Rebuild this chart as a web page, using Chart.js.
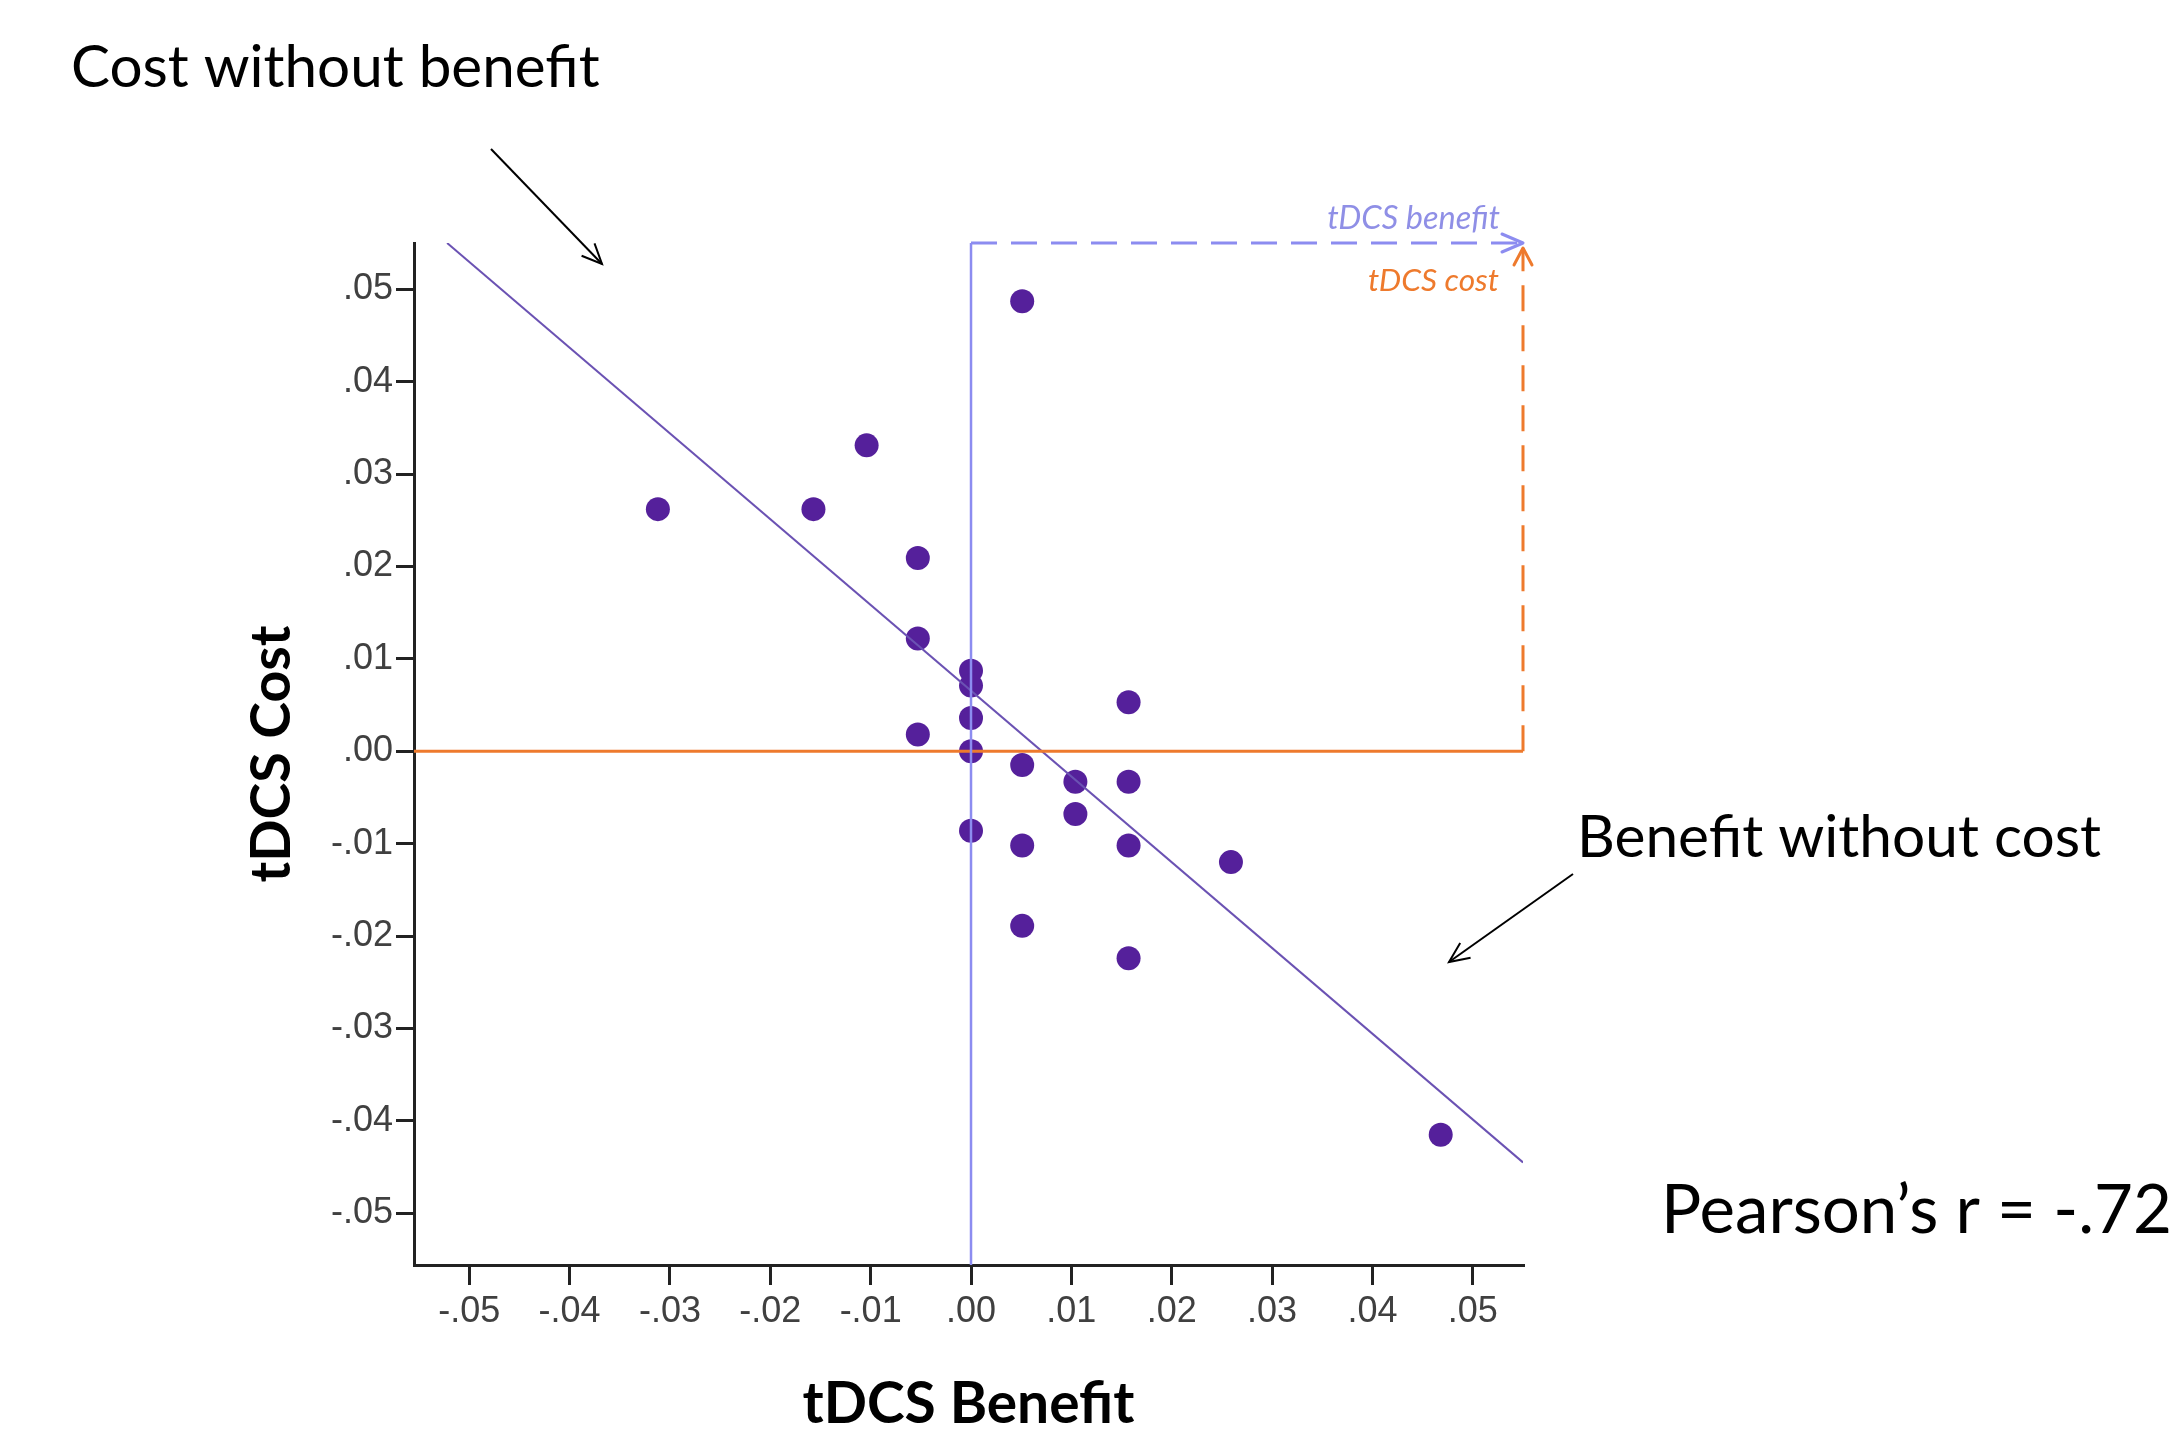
<!DOCTYPE html>
<html>
<head>
<meta charset="utf-8">
<script src="https://cdn.jsdelivr.net/npm/chart.js@4.4.1/dist/chart.umd.min.js"></script>
<style>
html,body{margin:0;padding:0;background:#ffffff;}
#wrap{position:relative;width:2179px;height:1439px;}
canvas{display:block;}
</style>
</head>
<body>
<div id="wrap"><canvas id="c" width="2179" height="1439"></canvas></div>
<script>
// ---------- DATA ----------
const benefitValues = [-0.0312, -0.0157, -0.0104, -0.0053, -0.0053, -0.0053, 0.0000, 0.0000, 0.0000, 0.0000, 0.0000, 0.0051, 0.0051, 0.0051, 0.0051, 0.0104, 0.0104, 0.0157, 0.0157, 0.0157, 0.0157, 0.0259, 0.0468];
const costValues    = [ 0.0262,  0.0262,  0.0331,  0.0209,  0.0122,  0.0018, 0.0087, 0.0071, 0.0036, 0.0000, -0.0086, 0.0487, -0.0015, -0.0102, -0.0189, -0.0033, -0.0068, 0.0053, -0.0033, -0.0102, -0.0224, -0.0120, -0.0415];
const fitLineBenefit = [-0.0522, 0.0550];
const fitLineCost    = [ 0.0550, -0.0445];
const xTickValues = [-0.05, -0.04, -0.03, -0.02, -0.01, 0, 0.01, 0.02, 0.03, 0.04, 0.05];
const xTickLabels = ['-.05', '-.04', '-.03', '-.02', '-.01', '.00', '.01', '.02', '.03', '.04', '.05'];
const yTickValues = [-0.05, -0.04, -0.03, -0.02, -0.01, 0, 0.01, 0.02, 0.03, 0.04, 0.05];
const yTickLabels = ['-.05', '-.04', '-.03', '-.02', '-.01', '.00', '.01', '.02', '.03', '.04', '.05'];
const xRange = [-0.0555, 0.0550];
const yRange = [-0.0556, 0.0550];
const xAxisTitle = 'tDCS Benefit';
const yAxisTitle = 'tDCS Cost';
const benefitArrowLabel = 'tDCS benefit';
const costArrowLabel = 'tDCS cost';
const noteTopLeft = 'Cost without benefit';
const noteRight = 'Benefit without cost';
const noteStat = 'Pearson\u2019s r = -.72';

// ---------- STYLE ----------
const PURPLE_DOT = '#55209b';
const PURPLE_LINE = '#6b52b3';
const BLUE = '#8c8cf0';
const BLUE_TEXT = '#8f8fe6';
const ORANGE = '#ee7a2d';
const FONT = 'Lato, "Open Sans", sans-serif';
const TICK_FONT = '"Liberation Sans", Arial, sans-serif';
const DASH = [26, 14];

function fitSize(text, style, targetWidth){
  const c = document.createElement('canvas').getContext('2d');
  c.font = style + ' 100px ' + FONT;
  return 100 * targetWidth / c.measureText(text).width;
}
const yTitleSize = fitSize(yAxisTitle, 'bold', 257);
const xTitleSize = fitSize(xAxisTitle, 'bold', 332);

const PL = 200, PB = 0;
const AREA_LEFT = 414, AREA_RIGHT = 1523, AREA_TOP = 243, AREA_BOTTOM = 1265;

const points = benefitValues.map((b, i) => ({x: b, y: costValues[i]}));
const fitLine = fitLineBenefit.map((b, i) => ({x: b, y: fitLineCost[i]}));

const annot = {
  id: 'annot',
  afterDatasetsDraw(chart){
    const {ctx, scales:{x, y}} = chart;
    const tipX = x.getPixelForValue(xRange[1]);
    const tipY = y.getPixelForValue(yRange[1]);
    ctx.save();
    ctx.lineCap = 'round'; ctx.lineJoin = 'round';
    ctx.strokeStyle = BLUE; ctx.lineWidth = 3;
    ctx.beginPath(); ctx.moveTo(tipX - 21, tipY - 9); ctx.lineTo(tipX, tipY); ctx.lineTo(tipX - 21, tipY + 9); ctx.stroke();
    ctx.strokeStyle = ORANGE;
    ctx.beginPath(); ctx.moveTo(tipX - 9, tipY + 22); ctx.lineTo(tipX, tipY + 5); ctx.lineTo(tipX + 9, tipY + 22); ctx.stroke();
    ctx.textAlign = 'right'; ctx.textBaseline = 'alphabetic';
    ctx.fillStyle = BLUE_TEXT;
    ctx.font = 'italic ' + fitSize(benefitArrowLabel, 'italic', 173).toFixed(1) + 'px ' + FONT;
    ctx.fillText(benefitArrowLabel, tipX - 23, tipY - 14);
    ctx.fillStyle = ORANGE;
    ctx.font = 'italic ' + fitSize(costArrowLabel, 'italic', 131).toFixed(1) + 'px ' + FONT;
    ctx.fillText(costArrowLabel, tipX - 24, tipY + 48);
    ctx.restore();
  },
  afterDraw(chart){
    const {ctx} = chart;
    ctx.save();
    ctx.fillStyle = '#000'; ctx.textAlign = 'left'; ctx.textBaseline = 'alphabetic';
    ctx.font = fitSize(noteTopLeft, '', 529).toFixed(1) + 'px ' + FONT;
    ctx.fillText(noteTopLeft, 71, 87);
    ctx.font = fitSize(noteRight, '', 524).toFixed(1) + 'px ' + FONT;
    ctx.fillText(noteRight, 1577, 857);
    ctx.font = fitSize(noteStat, '', 511).toFixed(1) + 'px ' + FONT;
    ctx.fillText(noteStat, 1661, 1233);
    function arrow(x1, y1, x2, y2){
      const a = Math.atan2(y2 - y1, x2 - x1), L = 22, s = 0.42;
      ctx.beginPath(); ctx.moveTo(x1, y1); ctx.lineTo(x2, y2); ctx.stroke();
      ctx.beginPath();
      ctx.moveTo(x2 - L*Math.cos(a - s), y2 - L*Math.sin(a - s));
      ctx.lineTo(x2, y2);
      ctx.lineTo(x2 - L*Math.cos(a + s), y2 - L*Math.sin(a + s));
      ctx.stroke();
    }
    ctx.strokeStyle = '#000'; ctx.lineWidth = 2;
    arrow(491, 149, 602, 264);
    arrow(1573, 874, 1449, 962);
    ctx.restore();
  }
};

new Chart(document.getElementById('c'), {
  type: 'scatter',
  data: {
    datasets: [
      {label: 'benefit axis', type: 'line', data: [{x: 0, y: yRange[0]}, {x: 0, y: yRange[1]}], borderColor: BLUE, borderWidth: 2.5, pointRadius: 0, fill: false, clip: false, order: 0},
      {label: 'benefit arrow', type: 'line', data: [{x: 0, y: yRange[1]}, {x: xRange[1], y: yRange[1]}], borderColor: BLUE, borderWidth: 3, borderDash: DASH, pointRadius: 0, fill: false, clip: false, order: 0},
      {label: 'cost axis', type: 'line', data: [{x: xRange[0], y: 0}, {x: xRange[1], y: 0}], borderColor: ORANGE, borderWidth: 3, pointRadius: 0, fill: false, clip: false, order: 0},
      {label: 'cost arrow', type: 'line', data: [{x: xRange[1], y: 0}, {x: xRange[1], y: yRange[1] - 0.0006}], borderColor: ORANGE, borderWidth: 3, borderDash: DASH, pointRadius: 0, fill: false, clip: false, order: 0},
      {label: 'fit', type: 'line', data: fitLine, borderColor: PURPLE_LINE, borderWidth: 2, pointRadius: 0, fill: false, order: 1},
      {label: 'participants', data: points, backgroundColor: PURPLE_DOT, borderColor: PURPLE_DOT, borderWidth: 0, pointRadius: 12, order: 2}
    ]
  },
  options: {
    responsive: false,
    animation: false,
    events: [],
    layout: {padding: {left: PL, top: AREA_TOP, right: 2179 - AREA_RIGHT, bottom: PB}},
    plugins: {legend: {display: false}, tooltip: {enabled: false}},
    scales: {
      x: {
        type: 'linear', min: xRange[0], max: xRange[1],
        afterBuildTicks: s => { s.ticks = xTickValues.map(v => ({value: v})); },
        afterFit: s => { s.height = 1439 - PB - AREA_BOTTOM; },
        ticks: {callback: (v, i) => xTickLabels[i], color: '#404040', font: {family: TICK_FONT, size: 36}, padding: 5, maxRotation: 0, autoSkip: false},
        grid: {drawOnChartArea: false, drawTicks: true, tickLength: 20, color: '#222', lineWidth: 3},
        border: {display: true, color: '#222', width: 3},
        title: {display: true, text: xAxisTitle, color: '#000', font: {family: FONT, weight: 'bold', size: xTitleSize}, padding: {top: 0, bottom: (1439 - PB) - 0.6 * xTitleSize - (1425 - 0.35 * xTitleSize)}}
      },
      y: {
        type: 'linear', min: yRange[0], max: yRange[1],
        afterBuildTicks: s => { s.ticks = yTickValues.map(v => ({value: v})); },
        afterFit: s => { s.width = AREA_LEFT - PL; },
        ticks: {callback: (v, i) => yTickLabels[i], color: '#404040', font: {family: TICK_FONT, size: 36}, padding: 3, autoSkip: false},
        grid: {drawOnChartArea: false, drawTicks: true, tickLength: 18, color: '#222', lineWidth: 3},
        border: {display: true, color: '#222', width: 3},
        title: {display: true, text: yAxisTitle, color: '#000', font: {family: FONT, weight: 'bold', size: yTitleSize}, padding: {top: (292 - 0.35 * yTitleSize) - PL - 0.6 * yTitleSize, bottom: 0}}
      }
    }
  },
  plugins: [annot]
});
</script>
</body>
</html>
